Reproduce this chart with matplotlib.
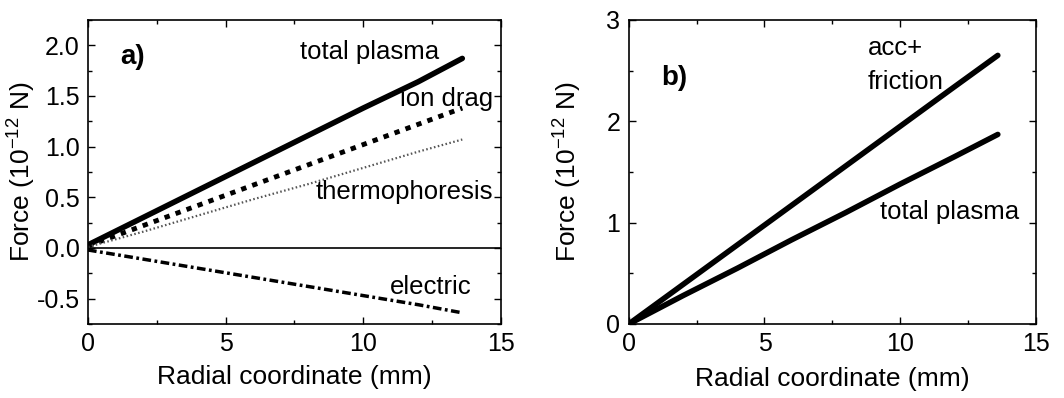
import numpy as np
import matplotlib.pyplot as plt
from matplotlib.ticker import MultipleLocator

plt.rcParams['font.family'] = ['Liberation Sans', 'DejaVu Sans']

# radial coordinate (mm)
r = [0.0, 2.0, 4.0, 6.0, 8.0, 10.0, 12.0, 13.6]

# panel a forces (1e-12 N)
total_plasma = [0.03, 0.30, 0.57, 0.84, 1.11, 1.38, 1.64, 1.87]
ion_drag = [0.02, 0.22, 0.42, 0.62, 0.82, 1.02, 1.22, 1.38]
thermo = [0.01, 0.16, 0.32, 0.48, 0.63, 0.79, 0.95, 1.07]
electric = [-0.02, -0.11, -0.20, -0.29, -0.38, -0.47, -0.56, -0.64]

# panel b
acc_friction = [0.0, 0.39, 0.78, 1.17, 1.56, 1.95, 2.34, 2.65]
total_plasma_b = [0.0, 0.28, 0.55, 0.83, 1.10, 1.38, 1.65, 1.87]

fig = plt.figure(figsize=(10.64, 3.98), dpi=100)
ax1 = fig.add_axes([0.0827, 0.186, 0.388, 0.764])
ax2 = fig.add_axes([0.591, 0.186, 0.3825, 0.764])

fs = 18.5
ylab = 'Force (10$^{\\mathregular{-12}}$ N)'

ax1.axhline(0, color='black', lw=1.2)
ax1.plot(r, total_plasma, color='black', lw=4.0, solid_capstyle='round')
ax1.plot(r, ion_drag, color='black', lw=3.5, linestyle=(0, (1.1, 1.3)))
ax1.plot(r, thermo, color='#555555', lw=1.6, linestyle=(0, (0.7, 1.1)))
ax1.plot(r, electric, color='black', lw=2.5, linestyle=(0, (2.5, 1.0, 0.8, 1.0)))
ax1.set_xlim(0, 15)
ax1.set_ylim(-0.75, 2.25)
ax1.set_yticks([-0.5, 0.0, 0.5, 1.0, 1.5, 2.0])
ax1.set_yticklabels(['-0.5', '0.0', '0.5', '1.0', '1.5', '2.0'])
ax1.yaxis.set_minor_locator(MultipleLocator(0.25))
ax1.text(10.24, 1.93, 'total plasma', fontsize=fs, ha='center', va='center')
ax1.text(13.04, 1.47, 'ion drag', fontsize=fs, ha='center', va='center')
ax1.text(11.5, 0.55, 'thermophoresis', fontsize=fs, ha='center', va='center')
ax1.text(12.45, -0.39, 'electric', fontsize=fs, ha='center', va='center')
ax1.text(1.16, 1.88, 'a)', fontsize=20, fontweight='bold', ha='left', va='center')

ax2.plot(r, acc_friction, color='black', lw=4.0, solid_capstyle='round')
ax2.plot(r, total_plasma_b, color='black', lw=4.0, solid_capstyle='round')
ax2.set_xlim(0, 15)
ax2.set_ylim(0, 3)
ax2.set_yticks([0, 1, 2, 3])
ax2.yaxis.set_minor_locator(MultipleLocator(0.5))
ax2.text(8.81, 2.72, 'acc+', fontsize=fs, ha='left', va='center')
ax2.text(8.81, 2.39, 'friction', fontsize=fs, ha='left', va='center')
ax2.text(9.25, 1.10, 'total plasma', fontsize=fs, ha='left', va='center')
ax2.text(1.2, 2.43, 'b)', fontsize=20, fontweight='bold', ha='left', va='center')

for ax in (ax1, ax2):
    ax.set_xticks([0, 5, 10, 15])
    ax.xaxis.set_minor_locator(MultipleLocator(2.5))
    ax.tick_params(which='both', direction='in', top=True, right=True, labelsize=18)
    ax.tick_params(which='major', length=5, width=1, pad=6)
    ax.tick_params(which='minor', length=3, width=1)
    ax.set_xlabel('Radial coordinate (mm)', fontsize=19)
    ax.set_ylabel(ylab, fontsize=19)
    for s in ax.spines.values():
        s.set_linewidth(1.2)

ax1.yaxis.set_label_coords(-0.123, 0.5)
ax2.yaxis.set_label_coords(-0.113, 0.5)
ax1.xaxis.set_label_coords(0.5, -0.135)
ax2.xaxis.set_label_coords(0.5, -0.141)

fig.savefig('out.png', dpi=100)
